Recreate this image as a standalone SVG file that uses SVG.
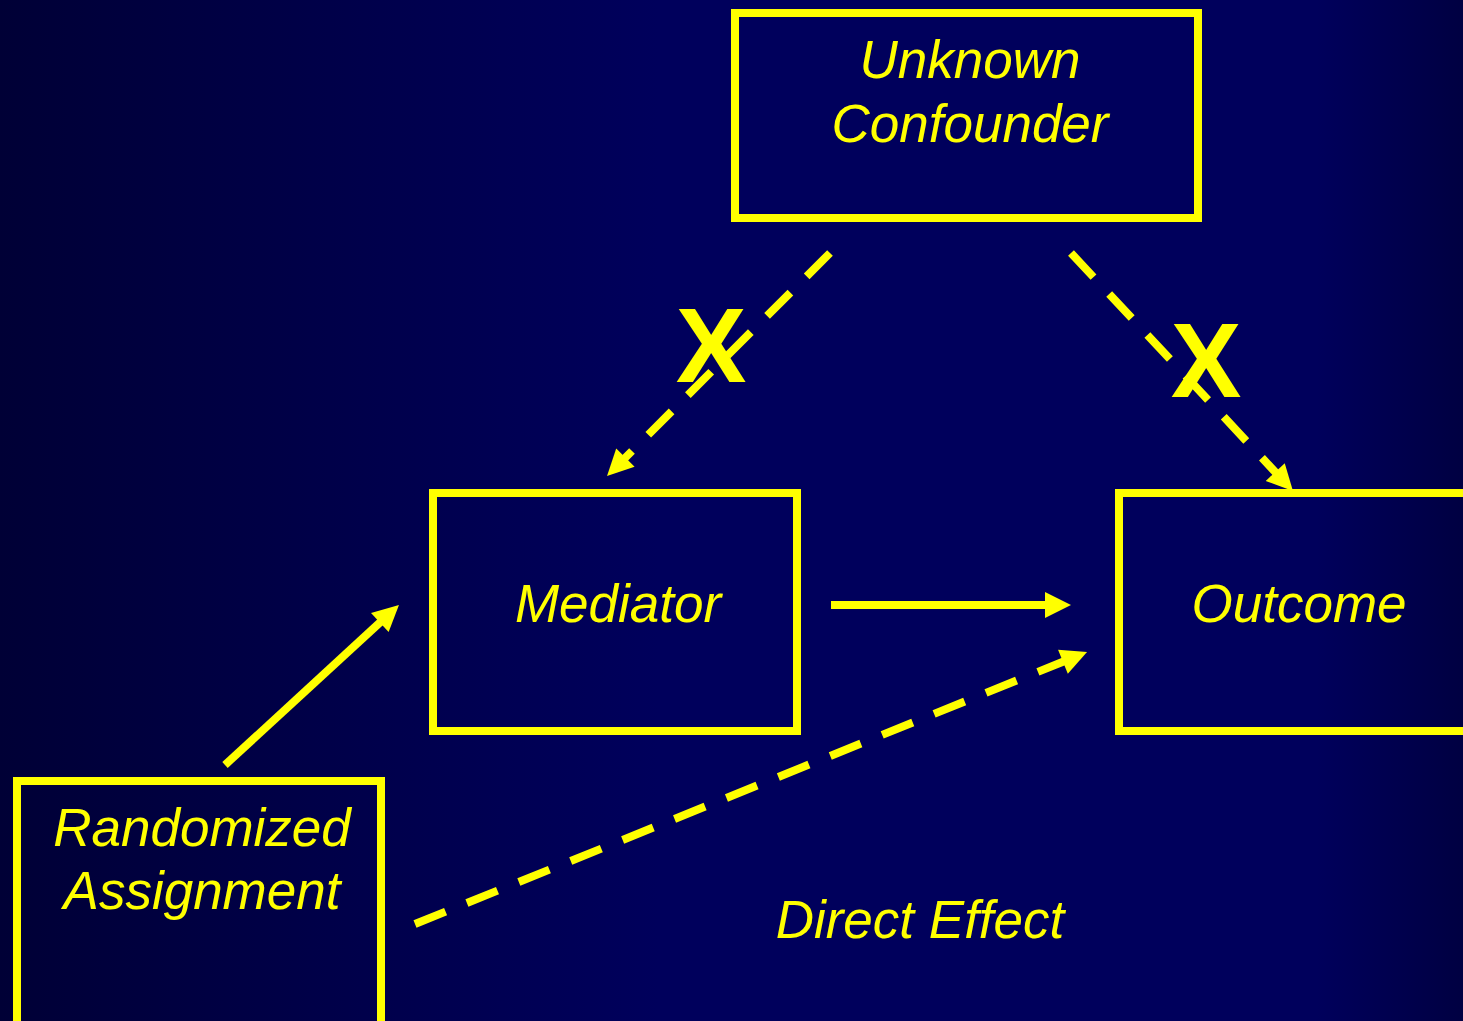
<svg xmlns="http://www.w3.org/2000/svg" width="1463" height="1021" viewBox="0 0 1463 1021">
  <defs>
    <linearGradient id="bg" x1="0" y1="0" x2="1" y2="0">
      <stop offset="0" stop-color="#000036"/>
      <stop offset="0.45" stop-color="#00005c"/>
      <stop offset="0.9" stop-color="#00005c"/>
      <stop offset="1" stop-color="#000042"/>
    </linearGradient>
    <!-- arrowhead: base sits on the line end, tip points 24px further on -->
    <marker id="head" markerUnits="userSpaceOnUse" markerWidth="28" markerHeight="28" refX="2" refY="13" orient="auto" viewBox="0 0 28 26" overflow="visible">
      <path d="M0,0 L26,13 L0,26 z" fill="#ffff00"/>
    </marker>
  </defs>
  <style>
    .box { fill: none; stroke: #ffff00; stroke-width: 8; }
    .label { font-family: "Liberation Sans", Arial, sans-serif; font-style: italic; font-size: 53px; fill: #ffff00; text-anchor: middle; }
    .cross { font-family: "Liberation Sans", Arial, sans-serif; font-weight: bold; font-size: 106px; fill: #ffff00; text-anchor: middle; }
    .link { fill: none; stroke: #ffff00; stroke-width: 8; marker-end: url(#head); }
    .dash { stroke-dasharray: 33 23; }
  </style>

  <rect width="1463" height="1021" fill="url(#bg)"/>

  <g id="connectors">
    <line class="link dash" x1="830" y1="253" x2="624" y2="459"/>
    <line class="link dash" x1="1071" y1="253" x2="1276.6" y2="473.5"/>
    <line class="link" x1="225" y1="765" x2="381.3" y2="621.2"/>
    <line class="link" x1="831" y1="605" x2="1047" y2="605"/>
    <line class="link dash" x1="415" y1="924" x2="1064.8" y2="661"/>
  </g>

  <g id="confounder">
    <rect class="box" x="735" y="13" width="463" height="205"/>
    <text class="label" x="970" y="78">Unknown</text>
    <text class="label" x="970" y="142">Confounder</text>
  </g>

  <g id="mediator">
    <rect class="box" x="433" y="493" width="364" height="238"/>
    <text class="label" x="618" y="622">Mediator</text>
  </g>

  <g id="outcome">
    <rect class="box" x="1119" y="493" width="360" height="238"/>
    <text class="label" x="1299" y="622">Outcome</text>
  </g>

  <g id="randomized">
    <rect class="box" x="17" y="781" width="364" height="260"/>
    <text class="label" x="202" y="846">Randomized</text>
    <text class="label" x="202" y="909">Assignment</text>
  </g>

  <g id="direct-effect">
    <text class="label" x="920" y="938">Direct Effect</text>
  </g>

  <g id="blocked-marks">
    <text class="cross" x="711" y="382">X</text>
    <text class="cross" x="1206" y="397">X</text>
  </g>
</svg>
